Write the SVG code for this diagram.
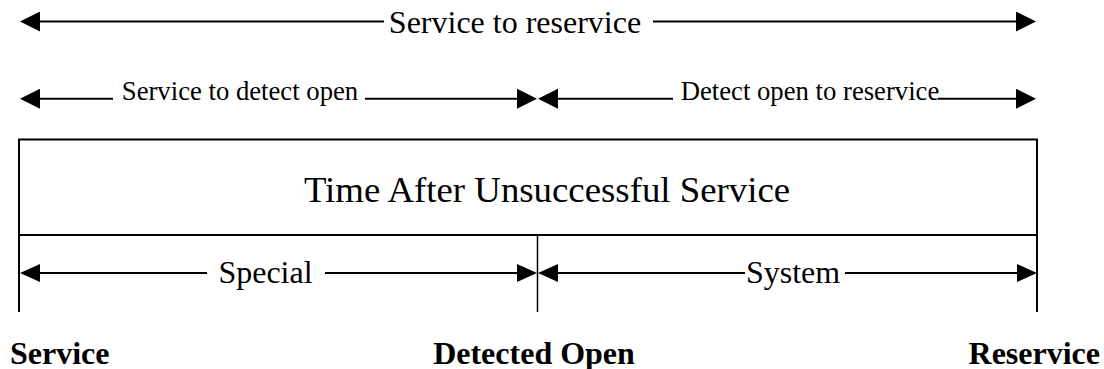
<svg xmlns="http://www.w3.org/2000/svg" width="1104" height="369" viewBox="0 0 1104 369">
<style>
text { font-family: "Liberation Serif", "Times New Roman", serif; fill: #000; }
.t32 { font-size: 32px; }
.t27 { font-size: 26.7px; }
.t37 { font-size: 36.8px; }
.b { font-size: 32px; font-weight: bold; }
.ln { stroke: #000; stroke-width: 2; fill: none; }
.thin { stroke: #000; stroke-width: 1.5; fill: none; }
.ar { stroke: #000; stroke-width: 2; fill: none; marker-end: url(#ah); }
.ar2 { stroke: #000; stroke-width: 2; fill: none; marker-end: url(#ah2); }
</style>
<defs>
<marker id="ah" viewBox="0 0 20 20" markerWidth="20" markerHeight="20" markerUnits="userSpaceOnUse" refX="0" refY="10" orient="auto">
<path d="M0,0 L20,10 L0,20 z" fill="#000"/>
</marker>
<marker id="ah2" viewBox="0 0 20 18" markerWidth="20" markerHeight="18" markerUnits="userSpaceOnUse" refX="0" refY="9" orient="auto">
<path d="M0,0 L20,9 L0,18 z" fill="#000"/>
</marker>
</defs>
<g id="timeline-box">
<rect class="ln" x="19" y="139.5" width="1018" height="95.5"/>
<line class="ln" x1="19" y1="235" x2="19" y2="312"/>
<line class="ln" x1="1037" y1="235" x2="1037" y2="312"/>
<line class="thin" x1="537.5" y1="235" x2="537.5" y2="312"/>
<text class="t37" x="547" y="202" text-anchor="middle">Time After Unsuccessful Service</text>
</g>
<g id="connectors">
<line class="ar" x1="384" y1="21.5" x2="40" y2="21.5"/>
<line class="ar" x1="653" y1="21.5" x2="1016" y2="21.5"/>
<line class="ar" x1="113" y1="98.7" x2="40" y2="98.7"/>
<line class="ar" x1="365" y1="98.7" x2="517" y2="98.7"/>
<line class="ar" x1="673" y1="98.7" x2="558" y2="98.7"/>
<line class="ar" x1="938" y1="98.7" x2="1016" y2="98.7"/>
<line class="ar2" x1="207" y1="273" x2="40" y2="273"/>
<line class="ar2" x1="325" y1="273" x2="517" y2="273"/>
<line class="ar2" x1="745" y1="273" x2="558" y2="273"/>
<line class="ar2" x1="845" y1="273" x2="1017" y2="273"/>
</g>
<g id="span-labels">
<text class="t32" x="515" y="33" text-anchor="middle">Service to reservice</text>
<text class="t27" x="240" y="100" text-anchor="middle">Service to detect open</text>
<text class="t27" x="810" y="100" text-anchor="middle">Detect open to reservice</text>
<text class="t32" x="265.5" y="283" text-anchor="middle">Special</text>
<text class="t32" x="793" y="283" text-anchor="middle">System</text>
</g>
<g id="point-service"><text class="b" x="10" y="364">Service</text></g>
<g id="point-detected-open"><text class="b" x="534" y="364" text-anchor="middle">Detected Open</text></g>
<g id="point-reservice"><text class="b" x="1100" y="364" text-anchor="end">Reservice</text></g>
</svg>
